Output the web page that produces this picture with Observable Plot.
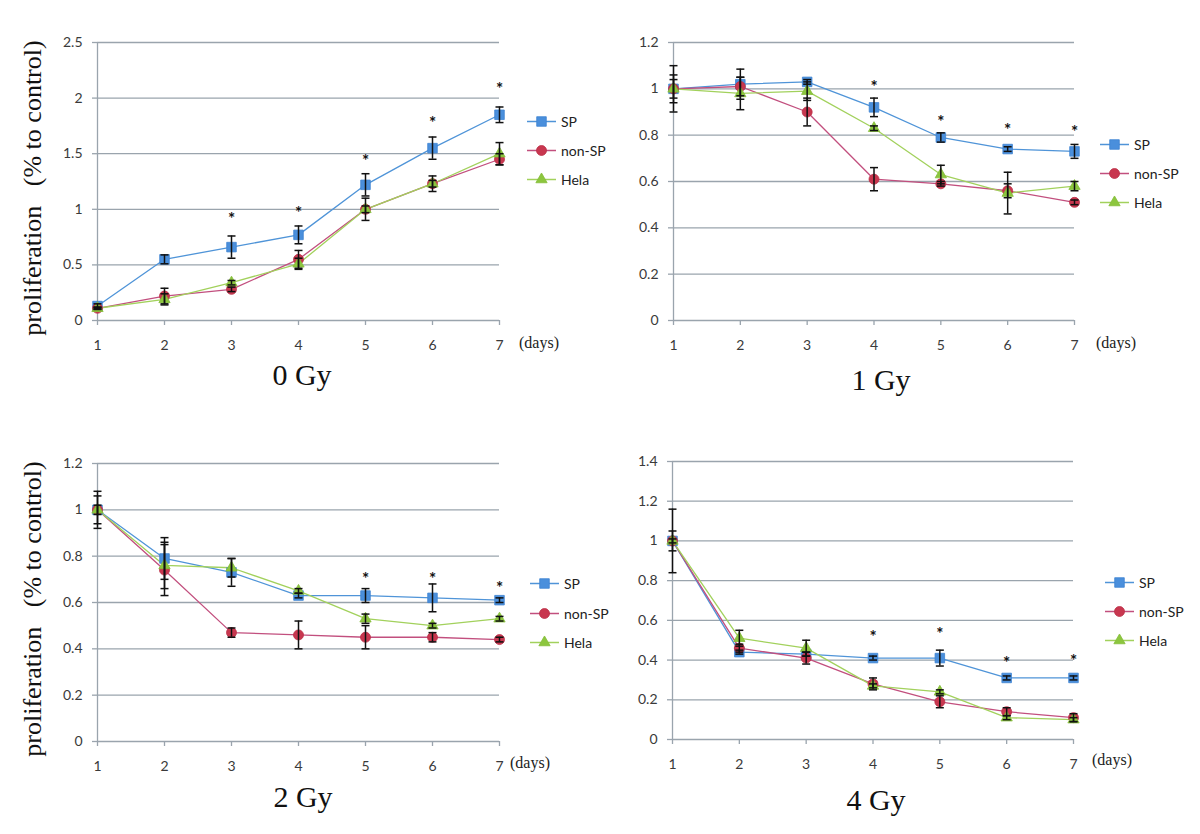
<!DOCTYPE html>
<html>
<head>
<meta charset="utf-8">
<script src="https://cdn.jsdelivr.net/npm/d3@7"></script>
<script src="https://cdn.jsdelivr.net/npm/@observablehq/plot@0.6"></script>
<style>
  html, body { margin: 0; padding: 0; background: #fff; }
  #root { position: relative; width: 1200px; height: 834px; background: #fff; overflow: hidden; }
  .panel { position: absolute; }
  .ytitle { position: absolute; font-family: "Liberation Serif", "Times New Roman", serif; font-size: 26px; color: #111; white-space: pre; transform: translate(-50%, -50%) rotate(-90deg); }
  .ptitle { position: absolute; font-family: "Liberation Serif", "Times New Roman", serif; font-size: 30px; color: #111; transform: translateX(-50%); line-height: 1; }
  .days { position: absolute; font-family: "Liberation Serif", "Times New Roman", serif; font-size: 16px; color: #222; transform: translateY(-50%); }
  .legend { position: absolute; font-family: Lato, "Open Sans", sans-serif; font-size: 14px; color: #222; }
  .legend .item { position: absolute; left: 0; display: flex; align-items: center; transform: translateY(-50%); white-space: nowrap; }
  .legend svg { display: block; margin-right: 5px; }
</style>
</head>
<body>
<div id="root"></div>
<script>
// ---------- data ----------
const days = [1, 2, 3, 4, 5, 6, 7];
const seriesNames = ["SP", "non-SP", "Hela"];
const doseTitles = ["0 Gy", "1 Gy", "2 Gy", "4 Gy"];
const yTitle = "proliferation   (% to control)";
const daysLabel = "(days)";

const yTicks0 = [0, 0.5, 1, 1.5, 2, 2.5];
const yTicks1 = [0, 0.2, 0.4, 0.6, 0.8, 1, 1.2];
const yTicks2 = [0, 0.2, 0.4, 0.6, 0.8, 1, 1.2];
const yTicks4 = [0, 0.2, 0.4, 0.6, 0.8, 1, 1.2, 1.4];

// 0 Gy
const gy0_SP = [0.13, 0.55, 0.66, 0.77, 1.22, 1.55, 1.85];
const gy0_SP_err = [0.02, 0.04, 0.10, 0.08, 0.10, 0.10, 0.07];
const gy0_nonSP = [0.11, 0.22, 0.28, 0.55, 1.00, 1.23, 1.45];
const gy0_nonSP_err = [0.01, 0.07, 0.02, 0.08, 0.10, 0.07, 0.05];
const gy0_Hela = [0.11, 0.19, 0.34, 0.51, 1.00, 1.23, 1.50];
const gy0_Hela_err = [0.01, 0.05, 0.02, 0.05, 0.03, 0.03, 0.10];
const gy0_starDays = [3, 4, 5, 6, 7];
const gy0_starY = [0.95, 1.01, 1.47, 1.82, 2.12];

// 1 Gy
const gy1_SP = [1.00, 1.02, 1.03, 0.92, 0.79, 0.74, 0.73];
const gy1_SP_err = [0.10, 0.065, 0.01, 0.04, 0.02, 0.01, 0.03];
const gy1_nonSP = [1.00, 1.01, 0.90, 0.61, 0.59, 0.56, 0.51];
const gy1_nonSP_err = [0.04, 0.04, 0.06, 0.05, 0.01, 0.03, 0.01];
const gy1_Hela = [1.00, 0.98, 0.99, 0.83, 0.63, 0.55, 0.58];
const gy1_Hela_err = [0.06, 0.07, 0.04, 0.01, 0.04, 0.09, 0.02];
const gy1_starDays = [4, 5, 6, 7];
const gy1_starY = [1.026, 0.876, 0.84, 0.835];

// 2 Gy
const gy2_SP = [1.00, 0.79, 0.73, 0.63, 0.63, 0.62, 0.61];
const gy2_SP_err = [0.08, 0.09, 0.06, 0.01, 0.03, 0.06, 0.01];
const gy2_nonSP = [1.00, 0.74, 0.47, 0.46, 0.45, 0.45, 0.44];
const gy2_nonSP_err = [0.06, 0.11, 0.02, 0.06, 0.05, 0.02, 0.01];
const gy2_Hela = [1.00, 0.76, 0.75, 0.65, 0.53, 0.50, 0.53];
const gy2_Hela_err = [0.02, 0.10, 0.04, 0.01, 0.02, 0.01, 0.01];
const gy2_starDays = [5, 6, 7];
const gy2_starY = [0.72, 0.72, 0.68];

// 4 Gy
const gy4_SP = [1.00, 0.44, 0.43, 0.41, 0.41, 0.31, 0.31];
const gy4_SP_err = [0.16, 0.01, 0.01, 0.01, 0.04, 0.01, 0.01];
const gy4_nonSP = [1.00, 0.46, 0.41, 0.28, 0.19, 0.14, 0.11];
const gy4_nonSP_err = [0.05, 0.02, 0.03, 0.03, 0.03, 0.02, 0.02];
const gy4_Hela = [1.00, 0.51, 0.46, 0.27, 0.24, 0.11, 0.10];
const gy4_Hela_err = [0.01, 0.04, 0.04, 0.01, 0.01, 0.01, 0.01];
const gy4_starDays = [4, 5, 6, 7];
const gy4_starY = [0.54, 0.553, 0.41, 0.42];

// ---------- styles ----------
const seriesStyle = {
  "SP":     { line: "#4f94d8", fill: "#4a8fdc", stroke: "#3f84d2", symbol: "square",   r: 5.4 },
  "non-SP": { line: "#c24f7e", fill: "#c8374f", stroke: "#bb3048", symbol: "circle",   r: 5 },
  "Hela":   { line: "#a2d15c", fill: "#8cc63e", stroke: "#84bd38", symbol: "triangle", r: 4.2 }
};
const gridColor = "#9aa4ad";
const capSymbol = { draw(ctx, size) { const w = Math.sqrt(size / Math.PI); ctx.moveTo(-w, 0); ctx.lineTo(w, 0); } };

const panels = [
  { title: doseTitles[0], ticks: yTicks0, ymax: 2.5, left: 0, top: 0, h: 400, ml: 97, mr: 101, mt: 42, mb: 80,
    vals: [gy0_SP, gy0_nonSP, gy0_Hela], errs: [gy0_SP_err, gy0_nonSP_err, gy0_Hela_err], sd: gy0_starDays, sy: gy0_starY,
    ytitle: true, titleX: 302, titleY: 360, daysX: 519, daysY: 343, legX: 527, legY: [121, 150, 179] },
  { title: doseTitles[1], ticks: yTicks1, ymax: 1.2, left: 600, top: 0, h: 400, ml: 73, mr: 126, mt: 42, mb: 80,
    vals: [gy1_SP, gy1_nonSP, gy1_Hela], errs: [gy1_SP_err, gy1_nonSP_err, gy1_Hela_err], sd: gy1_starDays, sy: gy1_starY,
    ytitle: false, titleX: 881, titleY: 365, daysX: 1096, daysY: 343, legX: 1100, legY: [144, 173, 202] },
  { title: doseTitles[2], ticks: yTicks2, ymax: 1.2, left: 0, top: 420, h: 414, ml: 97, mr: 101, mt: 43, mb: 93,
    vals: [gy2_SP, gy2_nonSP, gy2_Hela], errs: [gy2_SP_err, gy2_nonSP_err, gy2_Hela_err], sd: gy2_starDays, sy: gy2_starY,
    ytitle: true, titleX: 303, titleY: 782, daysX: 510, daysY: 763, legX: 530, legY: [583, 613, 642] },
  { title: doseTitles[3], ticks: yTicks4, ymax: 1.4, left: 600, top: 420, h: 414, ml: 72, mr: 127, mt: 41, mb: 95,
    vals: [gy4_SP, gy4_nonSP, gy4_Hela], errs: [gy4_SP_err, gy4_nonSP_err, gy4_Hela_err], sd: gy4_starDays, sy: gy4_starY,
    ytitle: false, titleX: 876, titleY: 785, daysX: 1092, daysY: 760, legX: 1105, legY: [582, 611, 640] }
];

const root = document.getElementById("root");
const fmt = d => String(+d.toFixed(2));

for (const p of panels) {
  const rowsBySeries = seriesNames.map((s, i) => days.map((d, j) => ({ series: s, day: d, v: p.vals[i][j], e: p.errs[i][j] })));
  const allRows = rowsBySeries.flat();
  const stars = p.sd.map((d, i) => ({ day: d, y: p.sy[i] }));

  const marks = [
    Plot.gridY(p.ticks, { stroke: gridColor, strokeOpacity: 1, strokeWidth: 1.3 }),
    Plot.ruleX([1], { stroke: gridColor, strokeWidth: 1.3 }),
    Plot.axisY(p.ticks, { tickSize: 5, tickPadding: 10, stroke: gridColor, strokeWidth: 1.3, tickFormat: fmt, fill: "#3a3a3a", label: null }),
    Plot.axisX(days, { tickSize: 5, tickPadding: 15, stroke: gridColor, strokeWidth: 1.3, tickFormat: d => String(d), fill: "#3a3a3a", label: null })
  ];
  rowsBySeries.forEach((rows, i) => {
    const st = seriesStyle[seriesNames[i]];
    marks.push(Plot.line(rows, { x: "day", y: "v", stroke: st.line, strokeWidth: 1.3 }));
  });
  rowsBySeries.forEach((rows, i) => {
    const st = seriesStyle[seriesNames[i]];
    marks.push(Plot.dot(rows, { x: "day", y: "v", symbol: st.symbol, r: st.r, fill: st.fill, stroke: st.stroke, strokeWidth: 0.8 }));
  });
  marks.push(Plot.ruleX(allRows, { x: "day", y1: d => d.v - d.e, y2: d => d.v + d.e, stroke: "#111", strokeWidth: 1.5 }));
  marks.push(Plot.dot(allRows, { x: "day", y: d => d.v + d.e, symbol: capSymbol, r: 4, fill: "none", stroke: "#111", strokeWidth: 1.5 }));
  marks.push(Plot.dot(allRows, { x: "day", y: d => d.v - d.e, symbol: capSymbol, r: 4, fill: "none", stroke: "#111", strokeWidth: 1.5 }));
  marks.push(Plot.text(stars, { x: "day", y: "y", text: () => "*", fontSize: 17, fontWeight: "bold", fill: "#111", dy: 5 }));

  const chart = Plot.plot({
    width: 600, height: p.h,
    marginLeft: p.ml, marginRight: p.mr, marginTop: p.mt, marginBottom: p.mb,
    x: { domain: [1, 7], label: null },
    y: { domain: [0, p.ymax], label: null },
    style: { fontFamily: "Lato, 'Open Sans', sans-serif", fontSize: "14px", color: "#3a3a3a", background: "transparent", overflow: "visible" },
    marks
  });
  const wrap = document.createElement("div");
  wrap.className = "panel";
  wrap.style.left = p.left + "px";
  wrap.style.top = p.top + "px";
  wrap.appendChild(chart);
  root.appendChild(wrap);

  // y title
  if (p.ytitle) {
    const t = document.createElement("div");
    t.className = "ytitle";
    t.textContent = yTitle;
    t.style.left = "33px";
    t.style.top = (p.top + p.mt + (p.h - p.mt - p.mb) / 2 + 7) + "px";
    root.appendChild(t);
  }
  // panel title
  const pt = document.createElement("div");
  pt.className = "ptitle";
  pt.textContent = p.title;
  pt.style.left = p.titleX + "px";
  pt.style.top = p.titleY + "px";
  root.appendChild(pt);
  // days label
  const dl = document.createElement("div");
  dl.className = "days";
  dl.textContent = daysLabel;
  dl.style.left = p.daysX + "px";
  dl.style.top = p.daysY + "px";
  root.appendChild(dl);
  // legend
  const lg = document.createElement("div");
  lg.className = "legend";
  lg.style.left = p.legX + "px";
  lg.style.top = "0px";
  seriesNames.forEach((s, i) => {
    const st = seriesStyle[s];
    const item = document.createElement("div");
    item.className = "item";
    item.style.top = p.legY[i] + "px";
    const sym = d3.symbol(st.symbol === "square" ? d3.symbolSquare : st.symbol === "circle" ? d3.symbolCircle : d3.symbolTriangle, st.r * st.r * Math.PI)();
    item.innerHTML = `<svg width="29" height="14"><line x1="0" x2="29" y1="7" y2="7" stroke="${st.line}" stroke-width="1.3"/><path d="${sym}" transform="translate(14.5,7)" fill="${st.fill}" stroke="${st.stroke}" stroke-width="0.8"/></svg><span>${s}</span>`;
    lg.appendChild(item);
  });
  root.appendChild(lg);
}
</script>
</body>
</html>
